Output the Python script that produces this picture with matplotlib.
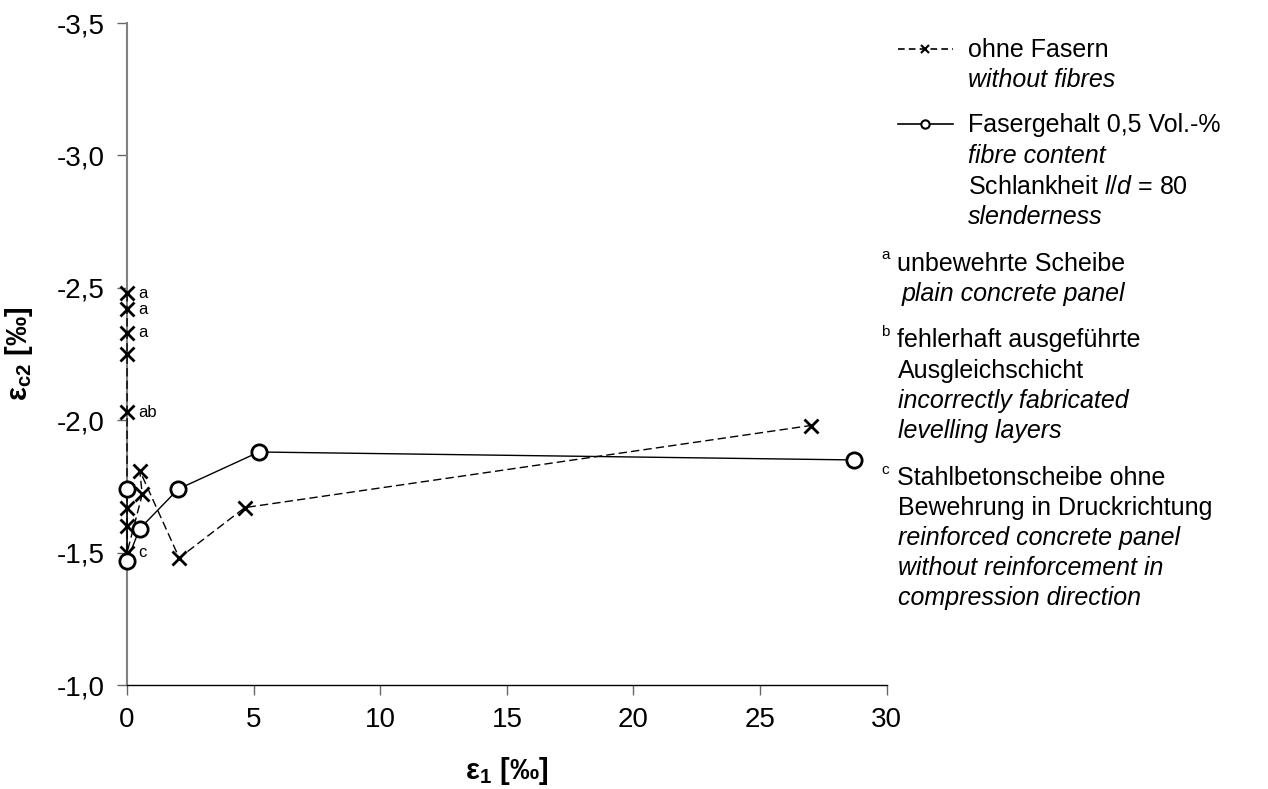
import matplotlib
matplotlib.use('Agg')
from matplotlib import pyplot as plt
from matplotlib.lines import Line2D
from matplotlib.ticker import FuncFormatter

plt.rcParams['font.family'] = ['Liberation Sans', 'DejaVu Sans']
plt.rcParams['mathtext.fontset'] = 'custom'
plt.rcParams['mathtext.rm'] = 'Liberation Sans'
plt.rcParams['mathtext.it'] = 'Liberation Sans:italic'
plt.rcParams['mathtext.bf'] = 'Liberation Sans:bold'

# ohne Fasern (without fibres)
eps1_plain = [0, 0, 0, 0, 0, 0, 0, 0, 0.6, 0.5, 2.06, 4.65, 27.0]
epsc2_plain = [-2.48, -2.42, -2.33, -2.25, -2.03, -1.67, -1.60, -1.50,
               -1.72, -1.81, -1.48, -1.67, -1.98]
notes_plain = ['a', 'a', 'a', '', 'ab', '', '', 'c', '', '', '', '', '']

# Fasergehalt 0,5 Vol.-% (fibre content)
eps1_fibre = [0, 0, 0.5, 2.02, 5.21, 28.7]
epsc2_fibre = [-1.74, -1.47, -1.59, -1.74, -1.88, -1.85]

xticks = [0, 5, 10, 15, 20, 25, 30]
yticks = [-3.5, -3.0, -2.5, -2.0, -1.5, -1.0]

FS = 18

fig = plt.figure(figsize=(12.68, 7.89), dpi=100)
ax = fig.add_axes([0.1002, 0.1318, 0.5991, 0.8390])

ax.plot(eps1_plain, epsc2_plain, color='black', lw=1.0, ls=(0, (6, 3)),
        marker='x', ms=10, mew=2.0, clip_on=False, zorder=3)
ax.plot(eps1_fibre, epsc2_fibre, color='black', lw=1.0, ls='-',
        marker='o', ms=11, mew=2.0, mfc='white', mec='black',
        clip_on=False, zorder=4)

for x, y, n in zip(eps1_plain, epsc2_plain, notes_plain):
    if n:
        ax.annotate(n, (x, y), xytext=(8, 0), textcoords='offset points',
                    fontsize=12, va='center', ha='left')

ax.set_xlim(0, 30)
ax.set_ylim(-1.0, -3.5)
ax.set_xticks(xticks)
ax.set_yticks(yticks)
ax.xaxis.set_major_formatter(FuncFormatter(lambda v, p: f'{v:g}'))
ax.yaxis.set_major_formatter(FuncFormatter(lambda v, p: f'{v:.1f}'.replace('.', ',')))
ax.tick_params(axis='both', labelsize=20, length=7, width=1.0,
               color='#666666', direction='out', pad=9)

for s in ['top', 'right']:
    ax.spines[s].set_visible(False)
ax.spines['left'].set_color('#808080')
ax.spines['left'].set_linewidth(1.5)
ax.spines['bottom'].set_color('black')
ax.spines['bottom'].set_linewidth(1.0)

ax.set_xlabel(r'$\mathbf{ε_1}$ [‰]', fontsize=21, fontweight='bold', labelpad=16)
ax.set_ylabel(r'$\mathbf{ε_{c2}}$ [‰]', fontsize=21, fontweight='bold', labelpad=16)

# legend, drawn by hand to keep the multi-line German/English labels
W, H = 1268.0, 789.0


def fx(px):
    return px / W


def fy(py):
    return 1 - py / H


def txt(px, py, s, italic=False, size=FS):
    fig.text(fx(px), fy(py), s, fontsize=size, ha='left', va='baseline',
             style='italic' if italic else 'normal')


fig.add_artist(Line2D([fx(898), fx(953)], [fy(49), fy(49)], color='black',
                      lw=1.2, ls=(0, (4, 2.5))))
fig.add_artist(Line2D([fx(925)], [fy(49)], color='black', marker='x',
                      ms=6, mew=1.5, ls='none'))
txt(968, 57, 'ohne Fasern')
txt(968, 87, 'without fibres', italic=True)

fig.add_artist(Line2D([fx(898), fx(953)], [fy(124), fy(124)], color='black',
                      lw=1.2))
fig.add_artist(Line2D([fx(925)], [fy(124)], color='black', marker='o',
                      ms=6, mew=1.5, mfc='white', ls='none'))
txt(968, 132, 'Fasergehalt 0,5 Vol.-%')
txt(968, 163, 'fibre content', italic=True)
txt(968, 194, r'Schlankheit $l$/$d$ = 80')
txt(968, 224, 'slenderness', italic=True)

txt(881, 259, 'a', size=11)
txt(897, 271, 'unbewehrte Scheibe')
txt(902, 301, 'plain concrete panel', italic=True)

txt(881, 336, 'b', size=11)
txt(897, 347, 'fehlerhaft ausgeführte')
txt(898, 378, 'Ausgleichschicht')
txt(898, 408, 'incorrectly fabricated', italic=True)
txt(898, 438, 'levelling layers', italic=True)

txt(881, 474, 'c', size=11)
txt(897, 485, 'Stahlbetonscheibe ohne')
txt(898, 515, 'Bewehrung in Druckrichtung')
txt(898, 545, 'reinforced concrete panel', italic=True)
txt(898, 575, 'without reinforcement in', italic=True)
txt(898, 605, 'compression direction', italic=True)

fig.savefig('out.png', dpi=100)
